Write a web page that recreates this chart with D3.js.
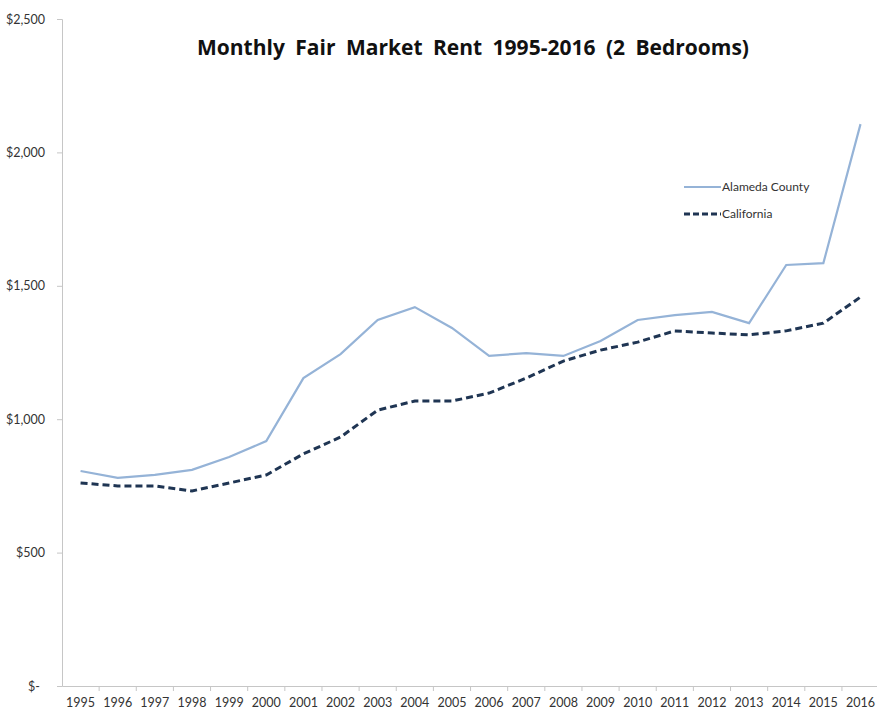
<!DOCTYPE html>
<html>
<head>
<meta charset="utf-8">
<script src="https://cdn.jsdelivr.net/npm/d3@7"></script>
<style>
  body { margin: 0; background: #fff; }
  svg { display: block; }
</style>
</head>
<body>
<div id="chart"></div>
<script>
// values
var years = ["1995","1996","1997","1998","1999","2000","2001","2002","2003","2004","2005",
             "2006","2007","2008","2009","2010","2011","2012","2013","2014","2015","2016"];
var alameda = [806, 780, 791, 810, 858, 918, 1154, 1244, 1372, 1420, 1342,
               1237, 1248, 1237, 1293, 1372, 1390, 1402, 1360, 1578, 1585, 2106];
var california = [761, 750, 750, 731, 761, 791, 870, 933, 1034, 1068, 1068,
                  1098, 1154, 1218, 1259, 1289, 1331, 1323, 1316, 1331, 1360, 1458];
var yTicks = [0, 500, 1000, 1500, 2000, 2500];

var W = 877, H = 713;
var plotLeft = 62, plotTop = 19, plotBottom = 686, plotRight = 62 + 37.14 * 22;
var font = "Lato, 'Open Sans', sans-serif";

var svg = d3.select("#chart").append("svg")
    .attr("width", W).attr("height", H);

var x = d3.scaleBand().domain(years).range([plotLeft, plotRight]);
var y = d3.scaleLinear().domain([0, 2500]).range([plotBottom, plotTop]);

function money(v) {
    return v === 0 ? "$-" : "$" + d3.format(",")(v);
}

// y axis
var yAxis = svg.append("g")
    .attr("transform", "translate(" + plotLeft + ",0)")
    .call(d3.axisLeft(y).tickValues(yTicks).tickFormat(money).tickSize(5).tickPadding(12));
yAxis.select(".domain").attr("stroke", "#c6c6c6");
yAxis.selectAll(".tick line").attr("stroke", "#c6c6c6");
yAxis.selectAll("text").attr("font-family", font).attr("font-size", 12.5).attr("fill", "#333");
yAxis.selectAll(".tick").filter(function(d){ return d === 0; }).select("text").attr("dx", -5);

// x axis with ticks between categories
var xAxis = svg.append("g")
    .attr("transform", "translate(0," + plotBottom + ")")
    .call(d3.axisBottom(x).tickSize(0).tickPadding(12));
xAxis.select(".domain").attr("stroke", "#c6c6c6");
xAxis.selectAll("text").attr("font-family", font).attr("font-size", 12.5).attr("fill", "#333");
xAxis.selectAll(".between").data(years).enter().append("line")
    .attr("x1", function(d){ return x(d) + x.bandwidth(); })
    .attr("x2", function(d){ return x(d) + x.bandwidth(); })
    .attr("y1", 0).attr("y2", 5)
    .attr("stroke", "#c6c6c6");

// title
svg.append("text")
    .attr("x", 473).attr("y", 55)
    .attr("text-anchor", "middle")
    .attr("font-family", "'Open Sans', sans-serif").attr("font-weight", "bold").attr("font-size", 21)
    .attr("word-spacing", 5)
    .attr("fill", "#111")
    .text("Monthly Fair Market Rent 1995-2016 (2 Bedrooms)");

var line = d3.line()
    .x(function(d, i){ return x(years[i]) + x.bandwidth() / 2; })
    .y(function(d){ return y(d); });

svg.append("path").datum(california)
    .attr("fill", "none").attr("stroke", "#1f3553").attr("stroke-width", 3)
    .attr("stroke-dasharray", "7,4")
    .attr("d", line);

svg.append("path").datum(alameda)
    .attr("fill", "none").attr("stroke", "#95b3d7").attr("stroke-width", 2.2)
    .attr("d", line);

// legend
var legend = [
    {name: "Alameda County", color: "#95b3d7", w: 2.2, dash: null},
    {name: "California", color: "#1f3553", w: 3, dash: "6,3"}
];
var lg = svg.append("g").attr("transform", "translate(684,187)");
legend.forEach(function(s, i){
    var g = lg.append("g").attr("transform", "translate(0," + (i * 27) + ")");
    g.append("line").attr("x1", 0).attr("x2", 37).attr("y1", 0).attr("y2", 0)
        .attr("stroke", s.color).attr("stroke-width", s.w)
        .attr("stroke-dasharray", s.dash);
    g.append("text").attr("x", 38).attr("y", 4)
        .attr("font-family", font).attr("font-size", 12).attr("fill", "#333")
        .text(s.name);
});
</script>
</body>
</html>
